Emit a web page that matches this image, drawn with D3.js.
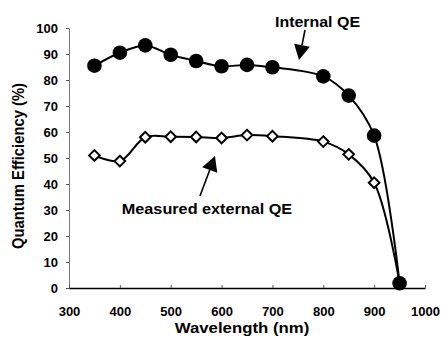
<!DOCTYPE html>
<html><head><meta charset="utf-8">
<script src="https://cdn.jsdelivr.net/npm/d3@7"></script>
<style>body{margin:0;background:#fff}svg{display:block}text{font-family:Arial,"Liberation Sans",sans-serif;font-weight:bold}</style>
</head><body>
<svg id="c" width="441" height="339"></svg>
<script>
const wavelengths = [350,400,450,500,550,600,650,700,800,850,900,950];
const internalQE = [85.5,90.5,93.3,89.7,87.3,85.3,85.8,84.9,81.4,74,58.6,1.8];
const externalQE = [51,48.8,58,58.2,58.1,57.7,58.8,58.4,56.3,51.4,40.5,2];
const xTicks = [300,400,500,600,700,800,900,1000];
const yTicks = [0,10,20,30,40,50,60,70,80,90,100];

const SX = 1.1; // slight horizontal stretch of the reference's lettering
const svg = d3.select("#c");
const x = d3.scaleLinear().domain([300,1000]).range([69,425]);
const y = d3.scaleLinear().domain([0,100]).range([288,28]);

// y axis
const ya = svg.append("g").attr("transform","translate(69,0)")
  .call(d3.axisLeft(y).tickValues(yTicks).tickSize(3).tickFormat(d3.format("d")));
ya.select(".domain").attr("stroke","#777").attr("stroke-width",1);
ya.selectAll(".tick line").attr("stroke","#555");
ya.selectAll(".tick text").attr("x",0).attr("transform","translate(-11,0)")
  .attr("font-size",13).attr("fill","#000")
  .style("font-family","Arial,'Liberation Sans',sans-serif").style("font-weight","bold");

// x axis
const xa = svg.append("g").attr("transform","translate(0,288)")
  .call(d3.axisBottom(x).tickValues(xTicks).tickSize(-3).tickSizeOuter(0).tickPadding(19).tickFormat(d3.format("d")));
xa.select(".domain").attr("stroke","#000").attr("stroke-width",1.6);
xa.selectAll(".tick line").attr("stroke","#555");
xa.selectAll(".tick text").attr("font-size",13).attr("fill","#000")
  .style("font-family","Arial,'Liberation Sans',sans-serif").style("font-weight","bold");

function label(tx,ty,s,size,sx){
  svg.append("text").attr("transform",`translate(${tx},${ty}) scale(${sx||SX},1)`)
    .attr("text-anchor","middle").attr("font-size",size).text(s);
}
// titles
label(242,333,"Wavelength (nm)",15,1.12);
svg.append("text").attr("transform",`translate(24,166) scale(${SX},1) rotate(-90)`)
  .attr("text-anchor","middle").attr("font-size",14.8).text("Quantum Efficiency (%)");

const line = d3.line().x((d,i)=>x(wavelengths[i])).y(d=>y(d)).curve(d3.curveCatmullRom.alpha(0.5));
svg.append("path").attr("d",line(externalQE)).attr("fill","none").attr("stroke","#000").attr("stroke-width",2);
svg.append("path").attr("d",line(internalQE)).attr("fill","none").attr("stroke","#000").attr("stroke-width",2);

svg.append("g").selectAll("path").data(externalQE).join("path")
  .attr("d",d3.symbol(d3.symbolDiamond2,72)())
  .attr("transform",(d,i)=>`translate(${x(wavelengths[i])},${y(d)})`)
  .attr("fill","#fff").attr("stroke","#000").attr("stroke-width",2);
svg.append("g").selectAll("circle").data(internalQE).join("circle")
  .attr("cx",(d,i)=>x(wavelengths[i])).attr("cy",d=>y(d)).attr("r",7.3).attr("fill","#000");

// annotations
function arrow(x1,y1,x2,y2){
  const ang=Math.atan2(y2-y1,x2-x1), L=15, W=8;
  const bx=x2-L*Math.cos(ang), by=y2-L*Math.sin(ang);
  svg.append("line").attr("x1",x1).attr("y1",y1).attr("x2",bx).attr("y2",by).attr("stroke","#000").attr("stroke-width",1.6);
  const px=-Math.sin(ang)*W, py=Math.cos(ang)*W;
  svg.append("path").attr("d",`M${x2},${y2}L${bx+px},${by+py}L${bx-px},${by-py}Z`).attr("fill","#000");
}
label(317.5,27,"Internal QE",14.5,1.1);
arrow(305,30,299,60);
label(207,214,"Measured external QE",14.5,1.12);
arrow(200,196,215,156);
</script>
</body></html>
